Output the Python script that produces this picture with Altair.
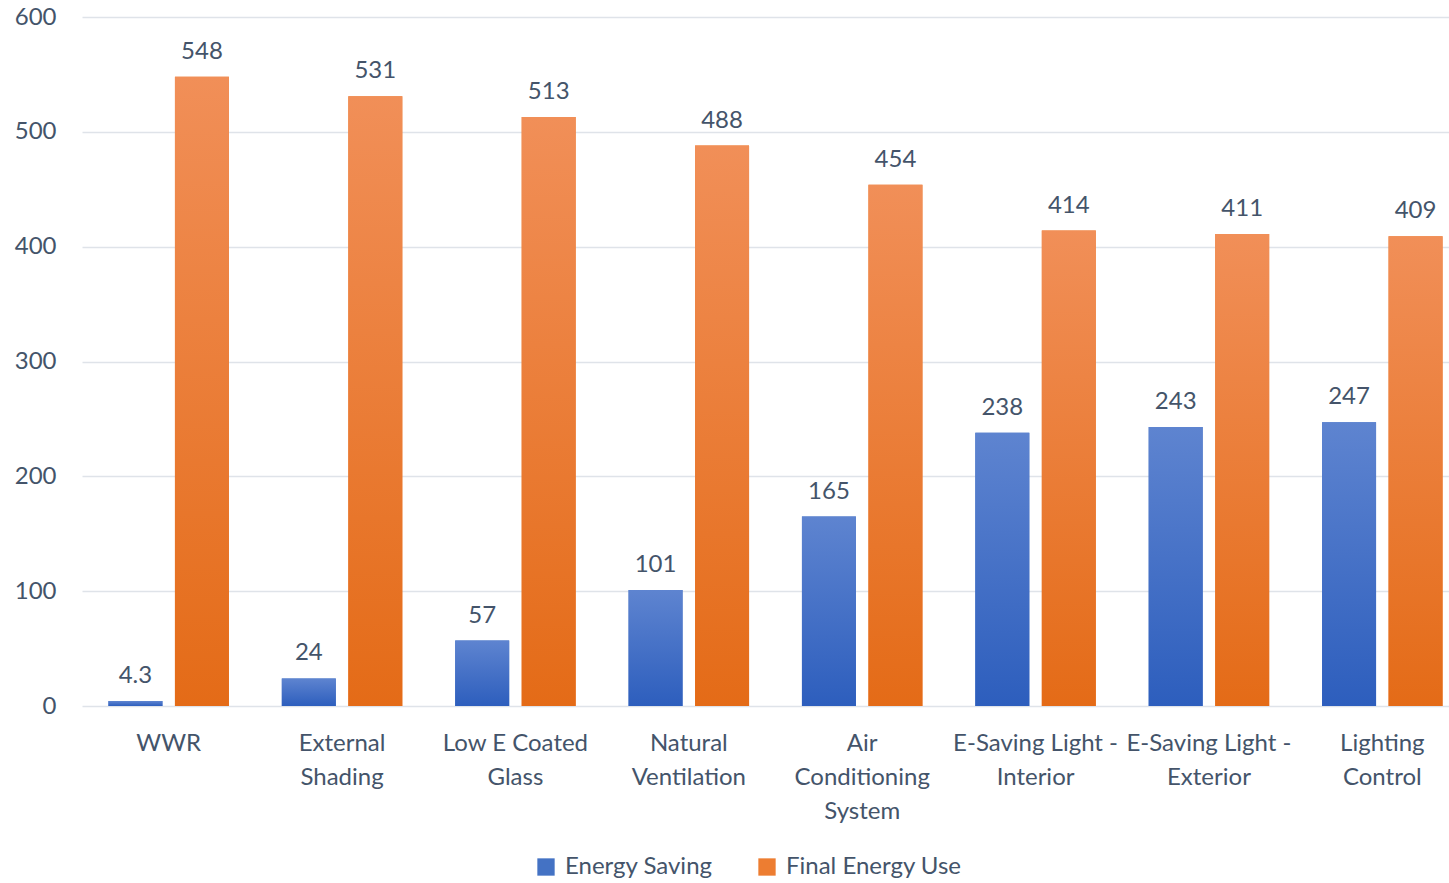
import altair as alt
import pandas as pd

categories = ["WWR", "External Shading", "Low E Coated Glass", "Natural Ventilation",
              "Air Conditioning System", "E-Saving Light - Interior",
              "E-Saving Light - Exterior", "Lighting Control"]
label_lines = ["WWR", "External|Shading", "Low E Coated|Glass", "Natural|Ventilation",
               "Air|Conditioning|System", "E-Saving Light -|Interior",
               "E-Saving Light -|Exterior", "Lighting|Control"]
energy_saving = [4.3, 24, 57, 101, 165, 238, 243, 247]
final_energy_use = [548, 531, 513, 488, 454, 414, 411, 409]
series = ["Energy Saving", "Final Energy Use"]
value_labels_saving = ["4.3", "24", "57", "101", "165", "238", "243", "247"]
value_labels_final = ["548", "531", "513", "488", "454", "414", "411", "409"]

rows = []
for c, v, t in zip(label_lines, energy_saving, value_labels_saving):
    rows.append({"cat": c, "series": series[0], "value": v, "txt": t})
for c, v, t in zip(label_lines, final_energy_use, value_labels_final):
    rows.append({"cat": c, "series": series[1], "value": v, "txt": t})
df = pd.DataFrame(rows)

FONT = "Lato"
TXT = "#44546a"
FS = 24

x = alt.X("cat:N", sort=label_lines, title=None,
          scale=alt.Scale(paddingInner=0.305, paddingOuter=0.1525, range=[0, 1387]),
          axis=alt.Axis(labelAngle=0, labelExpr="split(datum.label, '|')",
                        labelLineHeight=34, labelPadding=25, ticks=False, domain=False,
                        grid=False,
                        labelFont=FONT, labelFontSize=FS, labelColor=TXT,
                        labelBaseline="top", labelLimit=300))
xo = alt.XOffset("series:N", sort=series,
                 scale=alt.Scale(domain=series, paddingInner=0.188, paddingOuter=0))
y = alt.Y("value:Q", title=None,
          scale=alt.Scale(domain=[0, 600], nice=False),
          axis=alt.Axis(values=[0, 100, 200, 300, 400, 500, 600], ticks=False, domain=False,
                        gridColor="#dfe3e9", gridWidth=1.5, labelPadding=26,
                        labelFont=FONT, labelFontSize=FS, labelColor=TXT))

base = alt.Chart(df).mark_bar().encode(
    x=x, xOffset=xo, y=y,
    color=alt.Color("series:N", sort=series,
                    scale=alt.Scale(domain=series, range=["#4472c4", "#ed7d31"]),
                    legend=alt.Legend(title=None, orient="none", direction="horizontal",
                                      legendX=452, legendY=838, labelFont=FONT,
                                      labelFontSize=FS, labelColor=TXT, symbolType="square",
                                      symbolSize=300, columnPadding=42, labelOffset=7,
                                      labelLimit=400, symbolStrokeWidth=0))
)

blue_grad = alt.Gradient(gradient="linear", x1=0, x2=0, y1=0, y2=1,
                         stops=[alt.GradientStop(color="#5e84d0", offset=0),
                                alt.GradientStop(color="#2d5ebd", offset=1)])
orange_grad = alt.Gradient(gradient="linear", x1=0, x2=0, y1=0, y2=1,
                           stops=[alt.GradientStop(color="#f18f58", offset=0),
                                  alt.GradientStop(color="#e46b17", offset=1)])

blue = alt.Chart(df).transform_filter(alt.datum.series == series[0]).mark_bar(
    color=blue_grad).encode(x=x, xOffset=xo, y=y)
orange = alt.Chart(df).transform_filter(alt.datum.series == series[1]).mark_bar(
    color=orange_grad).encode(x=x, xOffset=xo, y=y)

labels = alt.Chart(df).mark_text(baseline="bottom", dy=-13, font=FONT, fontSize=FS,
                                 color=TXT).encode(x=x, xOffset=xo, y=y, text="txt:N")

chart = alt.layer(base, blue, orange, labels).properties(
    width=1367, height=689,
    autosize=alt.AutoSizeParams(type="none"),
    padding={"left": 82, "top": 17, "right": 0, "bottom": 177},
    view=alt.ViewBackground(strokeOpacity=0, strokeWidth=0),
).configure_view(strokeWidth=0, strokeOpacity=0).configure(background="white")

chart.save("out.html", embed_options={"renderer": "svg", "actions": False})
